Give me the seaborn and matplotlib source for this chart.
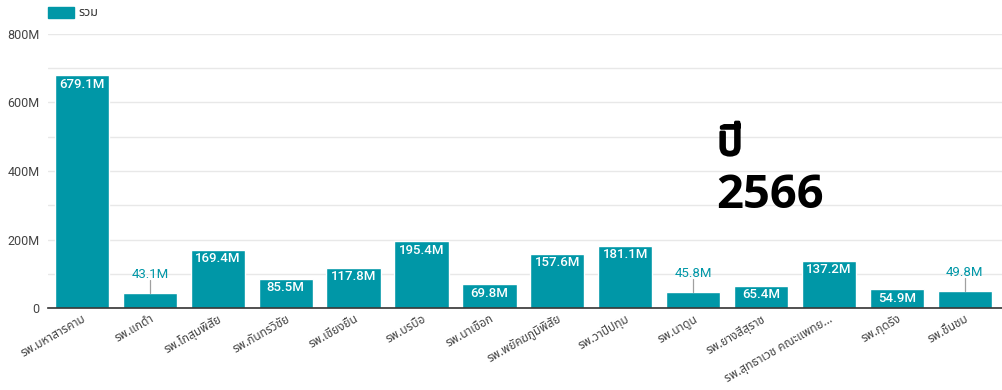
import matplotlib
matplotlib.use("Agg")
import matplotlib.pyplot as plt
import matplotlib.font_manager as fm
import matplotlib.patheffects as pe
import seaborn as sns
import pandas as pd
from matplotlib.ticker import MultipleLocator, FuncFormatter

hospitals = ["รพ.มหาสารคาม", "รพ.แกดำ", "รพ.โกสุมพิสัย", "รพ.กันทรวิชัย", "รพ.เชียงยืน",
             "รพ.บรบือ", "รพ.นาเชือก", "รพ.พยัคฆภูมิพิสัย", "รพ.วาปีปทุม", "รพ.นาดูน",
             "รพ.ยางสีสุราช", "รพ.สุทธาเวช คณะแพทย...", "รพ.กุดรัง", "รพ.ชื่นชม"]
totals = [679.1, 43.1, 169.4, 85.5, 117.8, 195.4, 69.8, 157.6, 181.1, 45.8, 65.4, 137.2, 54.9, 49.8]
legend_label = "รวม"
year_word = "ปี"
year_num = "2566"

sns.set_theme(style="white")
names = {f.name for f in fm.fontManager.ttflist}
fams = [f for f in ["Noto Sans Thai", "Loma", "Garuda", "Tlwg Typo", "Noto Sans", "DejaVu Sans"] if f in names] or ["DejaVu Sans"]
plt.rcParams['font.family'] = fams
num_font = ["Roboto", "DejaVu Sans"]

color = "#0097a7"
df = pd.DataFrame({"h": hospitals, "v": totals})

fig = plt.figure(figsize=(10.02, 3.9), dpi=100)
ax = fig.add_axes([0.048, 0.21, 0.952, 0.703])
sns.barplot(data=df, x="h", y="v", color=color, width=0.8, ax=ax, saturation=1)
ax.set_xlim(-0.5, len(hospitals) - 0.45)
ax.set_ylim(0, 800)
ax.yaxis.set_major_locator(MultipleLocator(200))
ax.yaxis.set_minor_locator(MultipleLocator(100))
ax.yaxis.set_major_formatter(FuncFormatter(lambda v, p: f"{int(v)}M" if v else "0"))
ax.grid(axis="y", which="both", color="#e8e8e8", linewidth=1)
ax.set_axisbelow(True)
for s in ["left", "right", "top"]:
    ax.spines[s].set_visible(False)
ax.spines["bottom"].set_color("#333333")
ax.spines["bottom"].set_linewidth(1.2)
ax.set_xlabel("")
ax.set_ylabel("")
ax.tick_params(axis="y", length=0, labelsize=9, labelcolor="#444444", pad=6)
ax.tick_params(axis="x", length=0, labelsize=8.5, labelcolor="#444444", pad=3)
for t in ax.get_yticklabels():
    t.set_fontfamily(num_font)
plt.setp(ax.get_xticklabels(), rotation=30, ha="right", rotation_mode="anchor")

outside = {1, 9, 13}
for i, v in enumerate(totals):
    if i in outside:
        ly = v + 54
        ax.plot([i, i], [v, ly - 15], color="#a0a0a0", lw=0.9)
        ax.text(i, ly, f"{v}M", ha="center", va="center", color=color, fontsize=9.5, family=num_font)
    else:
        ax.text(i, v - 7, f"{v}M", ha="center", va="top", color="white", fontsize=9.5,
                fontweight=500, family=num_font)

fig.patches.append(plt.Rectangle((0.048, 0.955), 0.026, 0.026, transform=fig.transFigure, color=color))
fig.text(0.078, 0.968, legend_label, fontsize=9, color="#333333", va="center")

fig.text(0.716, 0.603, year_word, fontsize=30, color="black", va="baseline",
         path_effects=[pe.withStroke(linewidth=2.0, foreground="black")])
fig.text(0.715, 0.467, year_num, fontsize=34, fontweight="bold", color="black", va="baseline",
         family=["Open Sans", "Roboto", "DejaVu Sans"])

fig.savefig("out.png", dpi=100)
